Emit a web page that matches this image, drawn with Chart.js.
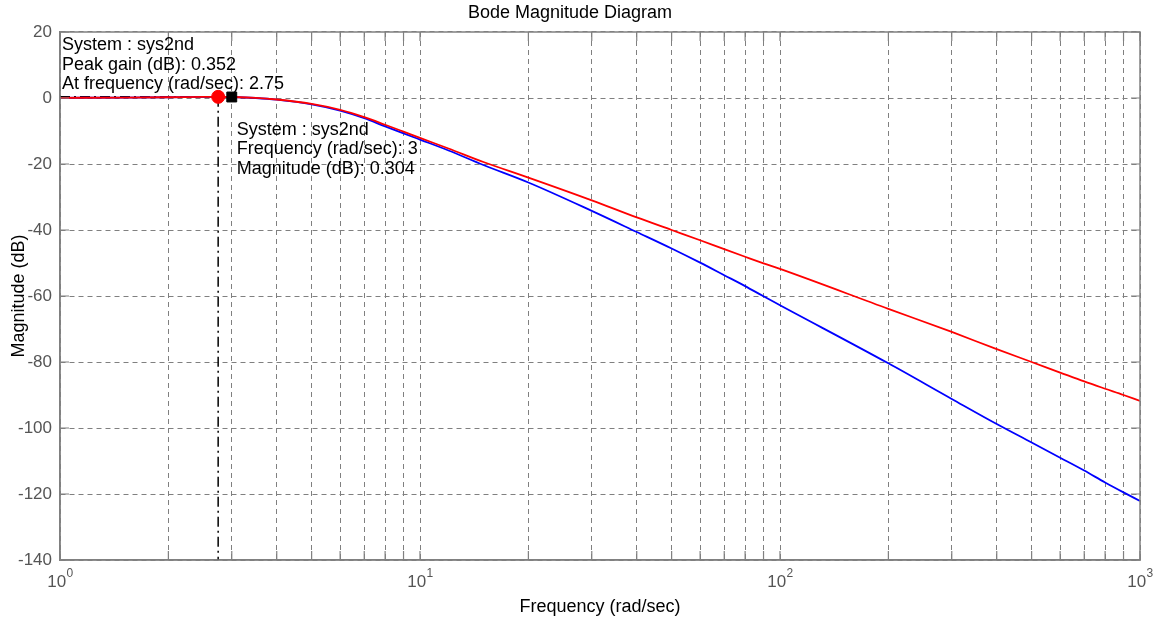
<!DOCTYPE html>
<html>
<head>
    <meta charset="UTF-8">
    <title>Bode Magnitude Diagram</title>
    <script src="https://cdn.jsdelivr.net/npm/chart.js"></script>
    <style>
        body { margin: 0; background: #ffffff; }
        canvas { display: block; }
    </style>
</head>
<body>
    <canvas id="bodeChart" width="1165" height="625"></canvas>

    <script>
        // frequencies (rad/sec) and magnitudes (dB)
        const freq = [1, 1.5, 2, 2.5, 2.75, 3, 3.5, 4, 5, 6, 7, 8, 9, 10, 12, 15, 20, 30, 40, 50, 60, 70, 80, 90,
            100, 200, 300, 400, 500, 600, 700, 800, 900, 1000];
        const magRed = [0.05, 0.12, 0.22, 0.32, 0.352, 0.30, 0.05, -0.45, -1.8, -3.6, -5.8, -8.1, -10.2, -12.1,
            -15.3, -19.4, -24.1, -31.0, -36.2, -40.0, -43.1, -45.8, -48.1, -50.1,
            -51.8, -63.9, -70.9, -76.1, -80.0, -83.2, -85.9, -88.1, -90.0, -91.8];
        const magBlue = [0.05, 0.12, 0.22, 0.32, 0.35, 0.304, 0.0, -0.5, -1.9, -3.8, -6.1, -8.6, -10.7, -12.6,
            -15.9, -20.3, -25.6, -34.2, -40.6, -45.6, -49.9, -53.7, -57.0, -60.1,
            -62.8, -80.4, -91.2, -98.8, -104.4, -109.0, -112.9, -116.5, -119.5, -122.1];

        // data tips
        const peakFreq = 2.75;
        const peakGain = 0.352;
        const tipFreq = 3;
        const tipMag = 0.304;
        const peakLabel = ['System : sys2nd', 'Peak gain (dB): 0.352', 'At frequency (rad/sec): 2.75'];
        const tipLabel = ['System : sys2nd', 'Frequency (rad/sec): 3', 'Magnitude (dB): 0.304'];

        // axes
        const xMin = 1, xMax = 1000;
        const yMin = -140, yMax = 20;
        const xGrid = [1, 2, 3, 4, 5, 6, 7, 8, 9, 10, 20, 30, 40, 50, 60, 70, 80, 90,
            100, 200, 300, 400, 500, 600, 700, 800, 900, 1000];
        const xDecades = [1, 10, 100, 1000];
        const xExponents = ['0', '1', '2', '3'];

        const FONT = '"Liberation Sans", Arial, sans-serif';
        Chart.defaults.font.family = FONT;

        const toPts = (xs, ys) => xs.map((x, i) => ({ x: x, y: ys[i] }));

        // box, inward ticks, decade labels and data tip texts
        const decorPlugin = {
            id: 'decor',
            afterDatasetsDraw(chart) {
                const { ctx, chartArea: a, scales: { x, y } } = chart;
                const tl = 9;
                ctx.save();
                ctx.strokeStyle = '#808080';
                ctx.lineWidth = 1.5;
                ctx.strokeRect(a.left, a.top, a.right - a.left, a.bottom - a.top);

                ctx.lineWidth = 1.2;
                ctx.beginPath();
                x.ticks.forEach(t => {
                    const px = x.getPixelForValue(t.value);
                    ctx.moveTo(px, a.bottom); ctx.lineTo(px, a.bottom - tl);
                    ctx.moveTo(px, a.top); ctx.lineTo(px, a.top + tl);
                });
                y.ticks.forEach(t => {
                    const py = y.getPixelForValue(t.value);
                    ctx.moveTo(a.left, py); ctx.lineTo(a.left + tl, py);
                    ctx.moveTo(a.right, py); ctx.lineTo(a.right - tl, py);
                });
                ctx.stroke();

                // 10^n labels
                ctx.fillStyle = '#555555';
                ctx.textBaseline = 'alphabetic';
                xDecades.forEach((v, i) => {
                    const px = x.getPixelForValue(v);
                    ctx.font = '17px ' + FONT;
                    const wb = ctx.measureText('10').width;
                    ctx.font = '12px ' + FONT;
                    const we = ctx.measureText(xExponents[i]).width;
                    const start = px - (wb + we) / 2;
                    ctx.font = '17px ' + FONT;
                    ctx.textAlign = 'left';
                    ctx.fillText('10', start, a.bottom + 27);
                    ctx.font = '12px ' + FONT;
                    ctx.fillText(xExponents[i], start + wb + 0.5, a.bottom + 17);
                });

                // data tip texts
                ctx.fillStyle = '#000000';
                ctx.font = '18px ' + FONT;
                ctx.textAlign = 'left';
                peakLabel.forEach((s, i) => ctx.fillText(s, a.left + 2, a.top + 18 + i * 19.5));
                const tx = x.getPixelForValue(tipFreq) + 5;
                const ty = y.getPixelForValue(tipMag) + 38;
                tipLabel.forEach((s, i) => ctx.fillText(s, tx, ty + i * 19.5));
                ctx.restore();
            }
        };

        const ctx = document.getElementById('bodeChart').getContext('2d');
        const bodeChart = new Chart(ctx, {
            type: 'line',
            data: {
                datasets: [
                    {
                        data: [{ x: peakFreq, y: peakGain }],
                        showLine: false,
                        pointRadius: 6.5,
                        pointBackgroundColor: '#ff0000',
                        pointBorderColor: '#ff0000'
                    },
                    {
                        data: [{ x: tipFreq, y: tipMag }],
                        showLine: false,
                        pointStyle: 'rect',
                        pointRadius: 7,
                        pointBackgroundColor: '#000000',
                        pointBorderColor: '#000000'
                    },
                    {
                        data: toPts(freq, magRed),
                        borderColor: '#ff0000',
                        borderWidth: 1.8,
                        pointRadius: 0,
                        cubicInterpolationMode: 'monotone',
                        fill: false
                    },
                    {
                        data: toPts(freq, magBlue),
                        borderColor: '#0000ff',
                        borderWidth: 1.8,
                        pointRadius: 0,
                        cubicInterpolationMode: 'monotone',
                        fill: false
                    },
                    {
                        // dash-dot drop line under the peak
                        data: [{ x: peakFreq, y: peakGain }, { x: peakFreq, y: yMin }],
                        borderColor: '#000000',
                        borderWidth: 1.5,
                        borderDash: [10, 4, 2, 4],
                        pointRadius: 0
                    },
                    {
                        data: [{ x: xMin, y: peakGain }, { x: peakFreq, y: peakGain }],
                        borderColor: '#000000',
                        borderWidth: 1.5,
                        borderDash: [10, 4, 2, 4],
                        pointRadius: 0
                    }
                ]
            },
            options: {
                responsive: false,
                animation: false,
                layout: { padding: { left: 0, right: 25, top: 0, bottom: 0 } },
                plugins: {
                    legend: { display: false },
                    tooltip: { enabled: false },
                    title: {
                        display: true,
                        text: 'Bode Magnitude Diagram',
                        color: '#000000',
                        font: { size: 18, weight: 'normal' },
                        padding: { top: 2.2, bottom: 8.2 }
                    }
                },
                scales: {
                    x: {
                        type: 'logarithmic',
                        min: xMin,
                        max: xMax,
                        afterBuildTicks(scale) {
                            scale.ticks = xGrid.map(v => ({ value: v }));
                        },
                        afterFit(scale) { scale.height = 65; },
                        ticks: { display: false, autoSkip: false },
                        grid: { color: '#808080', lineWidth: 1, drawTicks: false },
                        border: { color: '#808080', width: 1.5, dash: [5, 4] },
                        title: {
                            display: true,
                            text: 'Frequency (rad/sec)',
                            color: '#000000',
                            font: { size: 18 },
                            padding: { top: 0, bottom: 7 }
                        }
                    },
                    y: {
                        type: 'linear',
                        min: yMin,
                        max: yMax,
                        afterFit(scale) { scale.width = 60; },
                        ticks: { stepSize: 20, color: '#555555', font: { size: 17 }, padding: 8 },
                        grid: { color: '#808080', lineWidth: 1, drawTicks: false },
                        border: { color: '#808080', width: 1.5, dash: [5, 4] },
                        title: {
                            display: true,
                            text: 'Magnitude (dB)',
                            color: '#000000',
                            font: { size: 18 },
                            padding: { top: 8, bottom: 0 }
                        }
                    }
                }
            },
            plugins: [decorPlugin]
        });
    </script>
</body>
</html>
